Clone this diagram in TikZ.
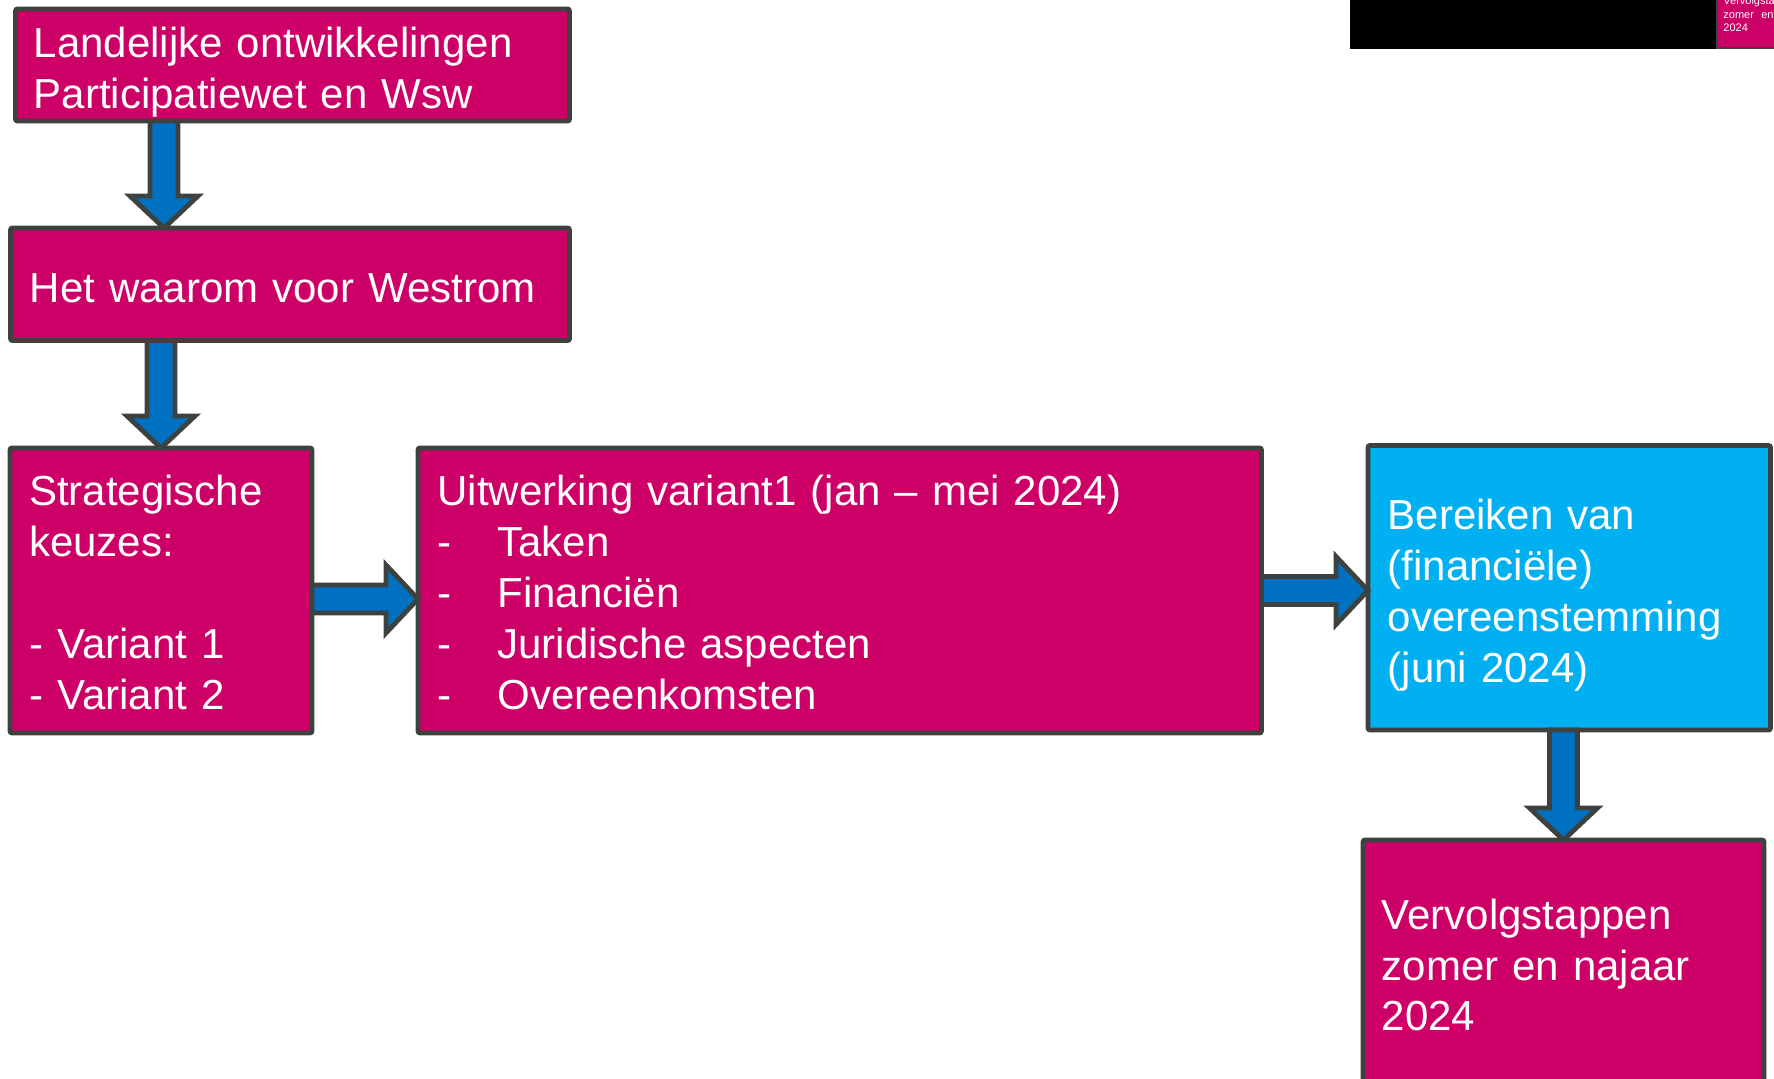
\documentclass[tikz,border=0pt]{standalone}
\usepackage{fontspec}
\setmainfont{Liberation Sans}
\usetikzlibrary{calc}
\definecolor{wmag}{HTML}{CC0066}
\definecolor{wcyan}{HTML}{00B0F0}
\definecolor{wblue}{HTML}{0070C0}
\definecolor{wline}{HTML}{3D423F}
\newcommand\blockdown[2]{%
  \draw[barrow] let \p1=(#1), \p2=(#2) in
    (\x1-7pt,\y1) -- (\x1-7pt,\y2+16pt) -- (\x1-17pt,\y2+16pt) -- (\x1,\y2)
    -- (\x1+17pt,\y2+16pt) -- (\x1+7pt,\y2+16pt) -- (\x1+7pt,\y1) -- cycle;}
\newcommand\blockright[2]{%
  \draw[barrow] let \p1=(#1), \p2=(#2) in
    (\x1,\y1+7pt) -- (\x2-16pt,\y1+7pt) -- (\x2-16pt,\y1+17pt) -- (\x2,\y1)
    -- (\x2-16pt,\y1-17pt) -- (\x2-16pt,\y1-7pt) -- (\x1,\y1-7pt) -- cycle;}
\newcommand\ditem[1]{\makebox[30pt][l]{-}#1}
\begin{document}
\begin{tikzpicture}[x=0.5pt,y=-0.5pt,
  box/.style={draw=wline,line width=2.4pt,rounded corners=1pt,inner sep=0pt,outer sep=0pt},
  magbox/.style={box,fill=wmag},
  cyanbox/.style={box,fill=wcyan},
  barrow/.style={draw=wline,fill=wblue,line width=2.4pt,line join=miter},
  txt/.style={text=white,anchor=base west,inner sep=0pt,align=left,text width=#1,font=\fontsize{21pt}{25.5pt}\selectfont},
  minitxt/.style={text=white,anchor=base west,inner sep=0pt,align=left,text width=60pt,font=\fontsize{5.5pt}{6.65pt}\selectfont}]
\useasboundingbox (0,0) rectangle (1774,1079);
\clip (0,0) rectangle (1774,1079);

% top-right remnants
\fill[black] (1350,0) rectangle (1716,49);
\filldraw[fill=wmag,draw=wline,line width=1pt] (1717,-10) rectangle (1790,48);
\node[minitxt] (mini) at (1723,5) {Vervolgstappen\\zomer\ \ en\\2024};

% boxes
\node[magbox,minimum width=277pt,minimum height=56pt] (s1) at (292.5,65) {};
\node[magbox,minimum width=279.5pt,minimum height=56.25pt] (s2) at (290,284.25) {};
\node[magbox,minimum width=151pt,minimum height=142.5pt] (s3) at (161,590.5) {};
\node[magbox,minimum width=421.75pt,minimum height=142.5pt] (s4) at (839.75,590.5) {};
\node[cyanbox,minimum width=201.25pt,minimum height=142.25pt] (s5) at (1569.25,587.75) {};
\node[magbox,minimum width=200.5pt,minimum height=130pt] (s6) at (1563.5,970) {};

% texts
\node[txt=270pt] (t1) at (33.5,58) {Landelijke ontwikkelingen\\Participatiewet en Wsw};
\node[txt=270pt] (t2) at (29.5,303) {Het waarom voor Westrom};
\node[txt=140pt] (t3) at (28.7,506) {Strategische\\keuzes:\\\mbox{}\\- Variant 1\\- Variant 2};
\node[txt=400pt] (t4) at (437,506) {Uitwerking variant1 (jan – mei 2024)\\\ditem{Taken}\\\ditem{Financiën}\\\ditem{Juridische aspecten}\\\ditem{Overeenkomsten}};
\node[txt=190pt] (t5) at (1387.5,530) {Bereiken van\\(financiële)\\overeenstemming\\(juni 2024)};
\node[txt=190pt] (t6) at (1381.5,929) {Vervolgstappen\\zomer en najaar\\2024};

% arrows
\coordinate (ax1) at (164,0);
\coordinate (ay3) at (0,599);
\blockdown{s1.south -| ax1}{s2.north -| ax1}
\blockdown{s2.south -| s3.north}{s3.north}
\blockright{s3.east |- ay3}{s4.west |- ay3}
\blockright{s4.east}{s5.west |- s4.east}
\blockdown{s5.south -| s6.north}{s6.north}
\end{tikzpicture}
\end{document}
